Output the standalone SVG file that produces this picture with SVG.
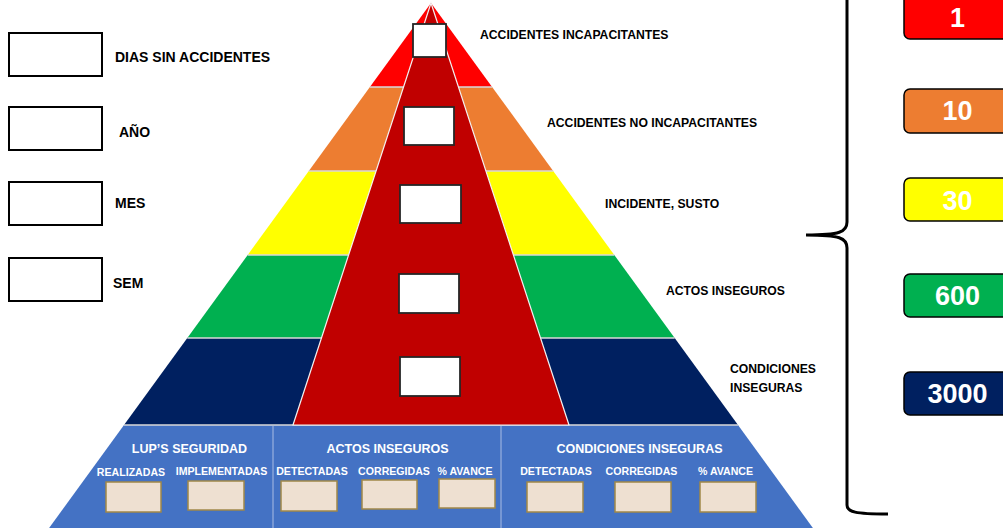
<svg xmlns="http://www.w3.org/2000/svg" width="1003" height="528" viewBox="0 0 1003 528">
<style>
.lbl{font-family:"Liberation Sans",Arial,sans-serif;font-weight:bold;fill:#000}
.wl{font-family:"Liberation Sans",Arial,sans-serif;font-weight:bold;fill:#fff;text-anchor:middle}
.lbox{fill:#fff;stroke:#000;stroke-width:2}
.ibox{fill:#fff;stroke:#262626;stroke-width:1.8}
.ebox{fill:#EEE0D1;stroke:#A08848;stroke-width:1.5}
.sep{stroke:#D9D9D9;stroke-width:1.5}
.num{stroke:#000;stroke-width:1.5}
</style>
<rect width="1003" height="528" fill="#fff"/>
<g id="pyramid">
  <polygon points="431,3 369.9,87 492.1,87" fill="#FF0000"/>
  <polygon points="369.9,87 492.1,87 553.2,171 308.8,171" fill="#ED7D31"/>
  <polygon points="308.8,171 553.2,171 614.3,255 247.7,255" fill="#FFFF00"/>
  <polygon points="247.7,255 614.3,255 674.7,338 187.3,338" fill="#00B050"/>
  <polygon points="187.3,338 674.7,338 738,425 124,425" fill="#002060"/>
  <polygon points="124,425 738,425 812.9,528 49.1,528" fill="#4472C4"/>
  <line class="sep" x1="369.9" y1="87" x2="492.1" y2="87"/>
  <line class="sep" x1="308.8" y1="171" x2="553.2" y2="171"/>
  <line class="sep" x1="247.7" y1="255" x2="614.3" y2="255"/>
  <line class="sep" x1="187.3" y1="338" x2="674.7" y2="338"/>
  <line class="sep" x1="124" y1="425" x2="738" y2="425"/>
  <polygon points="431,3 293,425 569,425" fill="#C00000" stroke="#F2F2F2" stroke-width="1.2"/>
  <line x1="273" y1="426" x2="273" y2="528" stroke="#A9BCE3" stroke-width="1"/>
  <line x1="501" y1="426" x2="501" y2="528" stroke="#A9BCE3" stroke-width="1"/>
</g>
<g id="pyramid-boxes">
  <rect class="ibox" x="413" y="24" width="33" height="33"/>
  <rect class="ibox" x="404" y="107" width="50" height="38"/>
  <rect class="ibox" x="400" y="185" width="61" height="38"/>
  <rect class="ibox" x="399" y="274" width="60" height="39"/>
  <rect class="ibox" x="400" y="357" width="60" height="39"/>
</g>
<g id="left-counters">
  <rect class="lbox" x="9" y="33" width="93" height="43"/>
  <text class="lbl" x="115" y="62" font-size="14">DIAS SIN ACCIDENTES</text>
  <rect class="lbox" x="9" y="107" width="93" height="43"/>
  <text class="lbl" x="119" y="137" font-size="14">AÑO</text>
  <rect class="lbox" x="9" y="182" width="93" height="43"/>
  <text class="lbl" x="115" y="208" font-size="14">MES</text>
  <rect class="lbox" x="9" y="258" width="93" height="43"/>
  <text class="lbl" x="113" y="288" font-size="14">SEM</text>
</g>
<g id="level-labels">
  <text class="lbl" x="480" y="39" font-size="12.2">ACCIDENTES INCAPACITANTES</text>
  <text class="lbl" x="547" y="127" font-size="12.2">ACCIDENTES NO INCAPACITANTES</text>
  <text class="lbl" x="605" y="208" font-size="12.2">INCIDENTE, SUSTO</text>
  <text class="lbl" x="666" y="295" font-size="12.2">ACTOS INSEGUROS</text>
  <text class="lbl" x="730" y="373" font-size="12.2">CONDICIONES</text>
  <text class="lbl" x="730" y="392" font-size="12.2">INSEGURAS</text>
</g>
<g id="bottom-panel">
  <text class="wl" x="189.5" y="453" font-size="12.5">LUP’S SEGURIDAD</text>
  <text class="wl" x="387.5" y="453" font-size="12.5">ACTOS INSEGUROS</text>
  <text class="wl" x="639.5" y="453" font-size="12.5">CONDICIONES INSEGURAS</text>
  <text class="wl" x="131" y="476" font-size="10.6">REALIZADAS</text>
  <text class="wl" x="221.5" y="475" font-size="10.6">IMPLEMENTADAS</text>
  <text class="wl" x="312" y="475" font-size="10.6">DETECTADAS</text>
  <text class="wl" x="394" y="475" font-size="10.6">CORREGIDAS</text>
  <text class="wl" x="465" y="475" font-size="10.6">% AVANCE</text>
  <text class="wl" x="556" y="475" font-size="10.6">DETECTADAS</text>
  <text class="wl" x="641.5" y="475" font-size="10.6">CORREGIDAS</text>
  <text class="wl" x="725.5" y="475" font-size="10.6">% AVANCE</text>
  <rect class="ebox" x="106" y="482" width="55" height="30"/>
  <rect class="ebox" x="188" y="481" width="56" height="29"/>
  <rect class="ebox" x="281" y="481" width="56" height="30"/>
  <rect class="ebox" x="362" y="480" width="55" height="29"/>
  <rect class="ebox" x="439" y="479" width="56" height="29"/>
  <rect class="ebox" x="527" y="482" width="56" height="30"/>
  <rect class="ebox" x="615" y="482" width="56" height="30"/>
  <rect class="ebox" x="700" y="482" width="56" height="30"/>
</g>
<g id="connectors">
  <path d="M847,-10 V222 C847,232 840,235 806,235 C840,235 847,238 847,248 V505 C847,512 855,514 888,514" fill="none" stroke="#000" stroke-width="3"/>
</g>
<g id="ratios">
  <rect class="num" x="904" y="-6" width="120" height="45" rx="6" fill="#FF0000"/>
  <text class="wl" x="957.5" y="27" font-size="27">1</text>
  <rect class="num" x="904" y="89" width="120" height="44" rx="6" fill="#ED7D31"/>
  <text class="wl" x="957.5" y="120" font-size="27">10</text>
  <rect class="num" x="904" y="178" width="120" height="43" rx="6" fill="#FFFF00"/>
  <text class="wl" x="957.5" y="210" font-size="27">30</text>
  <rect class="num" x="904" y="274" width="120" height="43" rx="6" fill="#00B050"/>
  <text class="wl" x="957.5" y="305" font-size="27">600</text>
  <rect class="num" x="904" y="372" width="120" height="43" rx="6" fill="#002060"/>
  <text class="wl" x="957.5" y="403" font-size="27">3000</text>
</g>
</svg>
